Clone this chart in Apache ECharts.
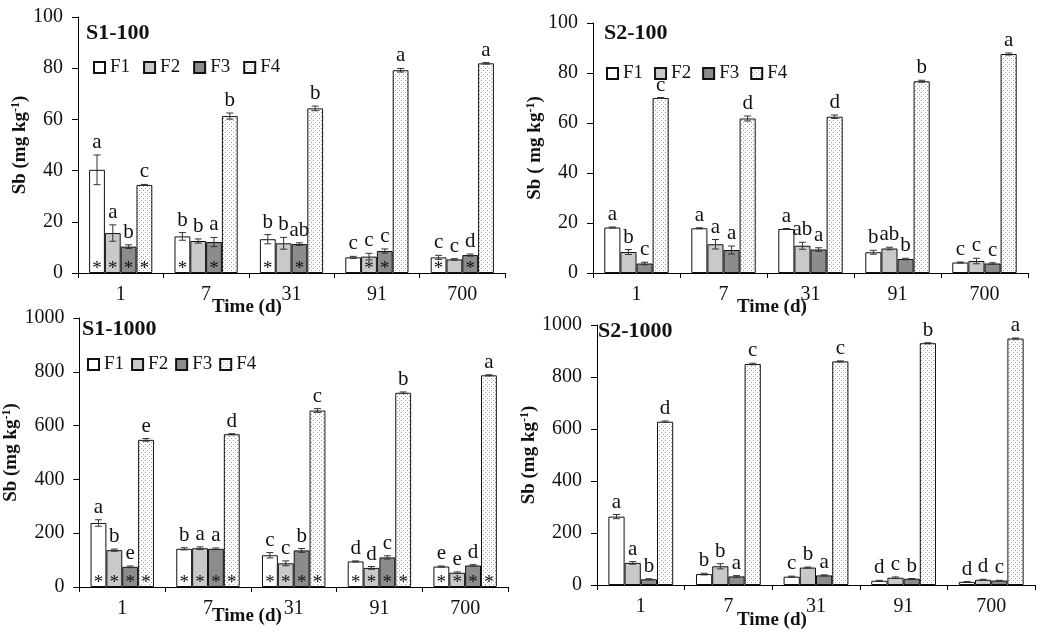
<!DOCTYPE html>
<html><head><meta charset="utf-8">
<script src="https://cdn.jsdelivr.net/npm/echarts@6/dist/echarts.min.js"></script>
<style>html,body{margin:0;padding:0;background:#fff}#c{width:1050px;height:642px}</style>
</head><body><div id="c"></div>
<script>
const categories = ['1', '7', '31', '91', '700'];
const fractions = ['F1', 'F2', 'F3', 'F4'];

// S1-100
const s1_100_mean = [[40.3, 14.3, 13.2, 6.1, 6.1], [15.6, 12.5, 11.6, 6.4, 5.3], [10.3, 12.1, 11.3, 8.6, 7.0], [34.4, 61.3, 64.3, 79.2, 81.9]];
const s1_100_err = [[5.8, 1.5, 1.8, 0.4, 0.8], [3.2, 0.8, 2.3, 1.3, 0.3], [0.7, 1.8, 0.5, 0.8, 0.4], [0.2, 1.2, 0.9, 0.7, 0.3]];
const s1_100_letters = [['a', 'b', 'b', 'c', 'c'], ['a', 'b', 'b', 'c', 'c'], ['b', 'a', 'ab', 'c', 'd'], ['c', 'b', 'b', 'a', 'a']];
const s1_100_star = [[1, 1, 1, 0, 1], [1, 0, 0, 1, 0], [1, 1, 1, 1, 1], [1, 0, 0, 0, 0]];

// S2-100
const s2_100_mean = [[18.2, 17.9, 17.6, 8.3, 4.2], [8.4, 11.5, 10.9, 9.8, 4.8], [3.8, 9.2, 9.4, 5.6, 3.8], [70.0, 61.8, 62.5, 76.7, 87.6]];
const s2_100_err = [[0.2, 0.2, 0.2, 0.8, 0.2], [1.0, 1.9, 1.4, 0.5, 1.1], [0.5, 1.6, 0.7, 0.3, 0.3], [0.2, 1.0, 0.7, 0.4, 0.4]];
const s2_100_letters = [['a', 'a', 'a', 'b', 'c'], ['b', 'a', 'ab', 'ab', 'c'], ['c', 'a', 'a', 'b', 'c'], ['c', 'd', 'd', 'b', 'a']];
const s2_100_star = [[0, 0, 0, 0, 0], [0, 0, 0, 0, 0], [0, 0, 0, 0, 0], [0, 0, 0, 0, 0]];

// S1-1000
const s1_1000_mean = [[238, 142, 118, 95, 76], [137, 144, 88, 71, 53], [75, 142, 136, 110, 80], [547, 568, 656, 722, 787]];
const s1_1000_err = [[12, 4, 10, 2, 2], [4, 5, 9, 5, 3], [3, 3, 7, 6, 3], [5, 2, 7, 3, 2]];
const s1_1000_letters = [['a', 'b', 'c', 'd', 'e'], ['b', 'a', 'c', 'd', 'e'], ['e', 'a', 'b', 'c', 'd'], ['e', 'd', 'c', 'b', 'a']];
const s1_1000_star = [[1, 1, 1, 1, 1], [1, 1, 1, 1, 1], [1, 1, 1, 1, 1], [1, 1, 1, 1, 1]];

// S2-1000
const s2_1000_mean = [[263, 42, 32, 16, 12], [85, 72, 67, 28, 20], [22, 33, 37, 24, 17], [628, 850, 860, 930, 948]];
const s2_1000_err = [[8, 3, 2, 2, 1], [5, 10, 2, 3, 2], [2, 3, 2, 1, 1], [3, 3, 2, 2, 2]];
const s2_1000_letters = [['a', 'b', 'c', 'd', 'd'], ['a', 'b', 'b', 'c', 'd'], ['b', 'a', 'a', 'b', 'c'], ['d', 'c', 'c', 'b', 'a']];
const s2_1000_star = [[0, 0, 0, 0, 0], [0, 0, 0, 0, 0], [0, 0, 0, 0, 0], [0, 0, 0, 0, 0]];

const panelTitles = ['S1-100', 'S2-100', 'S1-1000', 'S2-1000'];
const yMax = [100, 100, 1000, 1000];
const yStep = [20, 20, 200, 200];

const FONT = '"Liberation Serif", "Times New Roman", serif';
const GAP = 0.26;

// dotted pattern for F4
const pc = document.createElement('canvas');
pc.width = 4; pc.height = 4;
const px = pc.getContext('2d');
px.fillStyle = '#ffffff'; px.fillRect(0, 0, 4, 4);
px.fillStyle = '#9a9a9a';
px.fillRect(1, 0, 1, 1); px.fillRect(3, 2, 1, 1);
const fills = ['#ffffff', '#c9c9c9', '#8c8c8c', { image: pc, repeat: 'repeat' }];

const panels = [
  { mean: s1_100_mean, err: s1_100_err, letters: s1_100_letters, star: s1_100_star, grid: { left: 78, top: 17, width: 427, height: 256 }, yname: 'Sb (mg kg{s|-1})', ygap: 48 },
  { mean: s2_100_mean, err: s2_100_err, letters: s2_100_letters, star: s2_100_star, grid: { left: 593, top: 23, width: 435, height: 250 }, yname: 'Sb ( mg kg{s|-1})', ygap: 46 },
  { mean: s1_1000_mean, err: s1_1000_err, letters: s1_1000_letters, star: s1_1000_star, grid: { left: 76, top: 318, width: 432, height: 269 }, yname: 'Sb (mg kg{s|-1})', ygap: 51 },
  { mean: s2_1000_mean, err: s2_1000_err, letters: s2_1000_letters, star: s2_1000_star, grid: { left: 597, top: 325, width: 438, height: 260 }, yname: 'Sb (mg kg{s|-1})', ygap: 50 }
];

const grids = [], xAxes = [], yAxes = [], series = [];
panels.forEach((p, k) => {
  grids.push(p.grid);
  xAxes.push({
    type: 'category', gridIndex: k, data: categories,
    axisLine: { lineStyle: { color: '#000', width: 1 } },
    axisTick: { show: true, length: 5, lineStyle: { color: '#000' } },
    axisLabel: { color: '#111', fontFamily: FONT, fontSize: 20, margin: 12 }
  });
  yAxes.push({
    type: 'value', gridIndex: k, min: 0, max: yMax[k], interval: yStep[k],
    splitLine: { show: false },
    axisLine: { show: true, lineStyle: { color: '#000', width: 1 } },
    axisTick: { show: true, length: 6, lineStyle: { color: '#000' } },
    axisLabel: { color: '#111', fontFamily: FONT, fontSize: 20, margin: 15, formatter: v => String(v) },
    name: p.yname, nameLocation: 'middle', nameGap: p.ygap,
    nameTextStyle: { color: '#111', fontFamily: FONT, fontSize: 19, fontWeight: 'bold',
      rich: { s: { fontSize: 12, fontWeight: 'bold', fontFamily: FONT, verticalAlign: 'top', padding: [0, 0, 8, 0] } } }
  });
  fractions.forEach((f, i) => {
    series.push({
      type: 'bar', name: f, xAxisIndex: k, yAxisIndex: k,
      data: p.mean[i], barGap: '0%', barCategoryGap: (GAP * 100) + '%',
      itemStyle: { color: fills[i], borderColor: '#111', borderWidth: 1 },
      silent: true, animation: false
    });
  });
  fractions.forEach((f, i) => {
    const data = categories.map((c, j) => [j, p.mean[i][j], p.err[i][j]]);
    series.push({
      type: 'custom', xAxisIndex: k, yAxisIndex: k, data: data, z: 5, silent: true, animation: false,
      encode: { x: 0, y: 1 },
      renderItem: (params, api) => {
        const ci = api.value(0), v = api.value(1), e = api.value(2);
        const base = api.coord([ci, 0]);
        const band = api.size([1, 0])[0];
        const w = band * (1 - GAP) / 4;
        const x = base[0] - 2 * w + w * (i + 0.5);
        const yt = api.coord([ci, v + e])[1];
        const yb = api.coord([ci, Math.max(0, v - e)])[1];
        const cap = 3.5;
        const ls = { stroke: '#333', lineWidth: 1 };
        const ch = [
          { type: 'line', shape: { x1: x, y1: yt, x2: x, y2: yb }, style: ls },
          { type: 'line', shape: { x1: x - cap, y1: yt, x2: x + cap, y2: yt }, style: ls },
          { type: 'line', shape: { x1: x - cap, y1: yb, x2: x + cap, y2: yb }, style: ls },
          { type: 'text', x: x, y: yt - 2, style: { text: p.letters[i][params.dataIndex], fill: '#111', font: '21px ' + FONT, align: 'center', verticalAlign: 'bottom' } }
        ];
        if (p.star[i][params.dataIndex]) {
          ch.push({ type: 'text', x: x, y: base[1] - 4, style: { text: '*', fill: '#111', font: '19px ' + FONT, align: 'center', verticalAlign: 'middle' } });
        }
        return { type: 'group', children: ch };
      }
    });
  });
});

const legendCommon = {
  data: fractions, icon: 'rect', itemWidth: 11, itemHeight: 11, orient: 'horizontal',
  textStyle: { color: '#111', fontFamily: FONT, fontSize: 19 }, selectedMode: false
};
const legends = [
  Object.assign({}, legendCommon, { left: 88, top: 53, itemGap: 13 }),
  Object.assign({}, legendCommon, { left: 601, top: 59, itemGap: 11 }),
  Object.assign({}, legendCommon, { left: 82, top: 350, itemGap: 7 })
];

const titleStyle = { color: '#111', fontFamily: FONT, fontSize: 22, fontWeight: 'bold' };
const timeStyle = { color: '#111', fontFamily: FONT, fontSize: 19, fontWeight: 'bold' };
const titles = [
  { text: panelTitles[0], left: 86, top: 22, padding: 0, textStyle: titleStyle },
  { text: panelTitles[1], left: 604, top: 22, padding: 0, textStyle: titleStyle },
  { text: panelTitles[2], left: 82, top: 318, padding: 0, textStyle: titleStyle },
  { text: panelTitles[3], left: 598, top: 320, padding: 0, textStyle: titleStyle },
  { text: 'Time (d)', left: 212, top: 298, padding: 0, textStyle: timeStyle },
  { text: 'Time (d)', left: 737, top: 298, padding: 0, textStyle: timeStyle },
  { text: 'Time (d)', left: 212, top: 607, padding: 0, textStyle: timeStyle },
  { text: 'Time (d)', left: 737, top: 611, padding: 0, textStyle: timeStyle }
];

const chart = echarts.init(document.getElementById('c'), null, { renderer: 'canvas' });
chart.setOption({
  backgroundColor: '#fff', animation: false,
  title: titles, legend: legends, grid: grids, xAxis: xAxes, yAxis: yAxes, series: series
});
</script></body></html>
